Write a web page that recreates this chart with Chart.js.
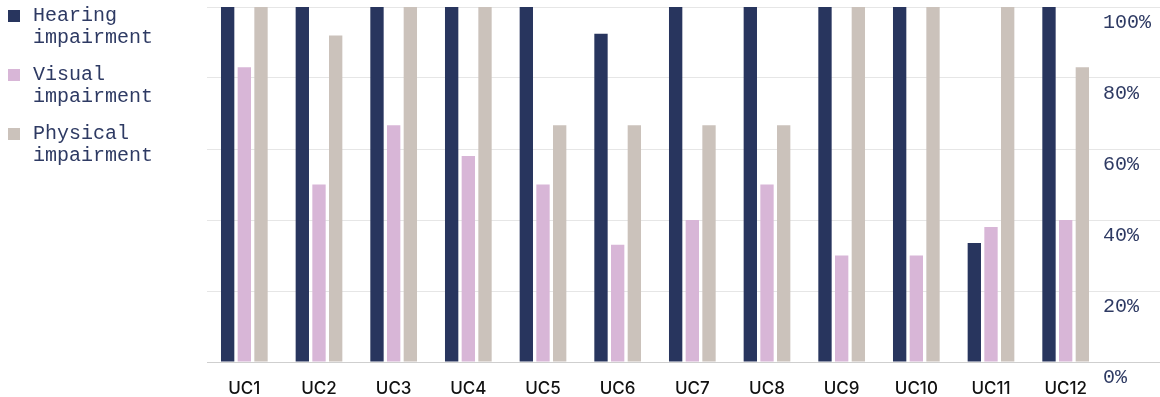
<!DOCTYPE html>
<html>
<head>
<meta charset="utf-8">
<script src="https://cdn.jsdelivr.net/npm/chart.js@4"></script>
<style>
  html, body { margin: 0; padding: 0; background: #ffffff; }
  #wrap { position: relative; width: 1160px; height: 397px; }
  #chart { position: absolute; left: 0; top: 0; }
  #legend { position: absolute; left: 8px; top: 5px; font-family: "Liberation Mono", monospace;
            font-size: 20px; line-height: 22px; color: #2e3a63; }
  .item { position: relative; padding-left: 25px; margin-bottom: 15px; }
  .swatch { position: absolute; left: 0; top: 5px; width: 12px; height: 12px; }
</style>
</head>
<body>
<div id="wrap">
  <canvas id="chart" width="1160" height="397"></canvas>
  <div id="legend"></div>
</div>
<script>
const categories = ['UC1', 'UC2', 'UC3', 'UC4', 'UC5', 'UC6', 'UC7', 'UC8', 'UC9', 'UC10', 'UC11', 'UC12'];
const seriesNames = [['Hearing', 'impairment'], ['Visual', 'impairment'], ['Physical', 'impairment']];
const hearing  = [100, 100, 100, 100, 100, 92.5, 100, 100, 100, 100, 33.5, 100];
const visual   = [83, 50, 66.7, 58, 50, 33, 40, 50, 30, 30, 38, 40];
const physical = [100, 92, 100, 100, 66.7, 66.7, 66.7, 66.7, 100, 100, 100, 83];
const yTicks = [0, 20, 40, 60, 80, 100];

const colors = ['#28355e', '#d8b6d7', '#cbc2bb'];
const values = [hearing, visual, physical];

const datasets = values.map((v, i) => ({
  label: seriesNames[i].join(' '),
  data: v,
  backgroundColor: colors[i],
  borderWidth: 0,
  categoryPercentage: 0.67,
  barPercentage: 0.8
}));

// legend
const legend = document.getElementById('legend');
seriesNames.forEach((lines, i) => {
  const d = document.createElement('div');
  d.className = 'item';
  const sw = document.createElement('span');
  sw.className = 'swatch';
  sw.style.background = colors[i];
  d.appendChild(sw);
  lines.forEach(t => {
    const l = document.createElement('div');
    l.textContent = t;
    d.appendChild(l);
  });
  legend.appendChild(d);
});

new Chart(document.getElementById('chart'), {
  type: 'bar',
  data: { labels: categories, datasets },
  options: {
    responsive: false,
    animation: false,
    layout: { padding: { left: 207, top: 7, right: 0, bottom: 0 } },
    plugins: { legend: { display: false }, tooltip: { enabled: false } },
    scales: {
      x: {
        grid: { display: false },
        border: { display: false },
        ticks: { color: '#111111', font: { family: 'Inter', size: 17, weight: '500' }, padding: 9, maxRotation: 0 },
        afterFit: s => { s.height = 35; }
      },
      y: {
        position: 'right',
        min: 0, max: 100,
        border: { display: false },
        grid: {
          color: ctx => (ctx.tick && ctx.tick.value === 0) ? '#cfcfcf' : '#e6e6e6',
          lineWidth: 1,
          tickLength: 57
        },
        afterBuildTicks: s => { s.ticks = yTicks.map(v => ({ value: v })); },
        ticks: {
          color: '#2e3a63',
          font: { family: 'Liberation Mono', size: 20 },
          padding: -57,
          labelOffset: 16,
          callback: v => v + '%'
        },
        afterFit: s => { s.width = 57; }
      }
    }
  }
});
</script>
</body>
</html>
